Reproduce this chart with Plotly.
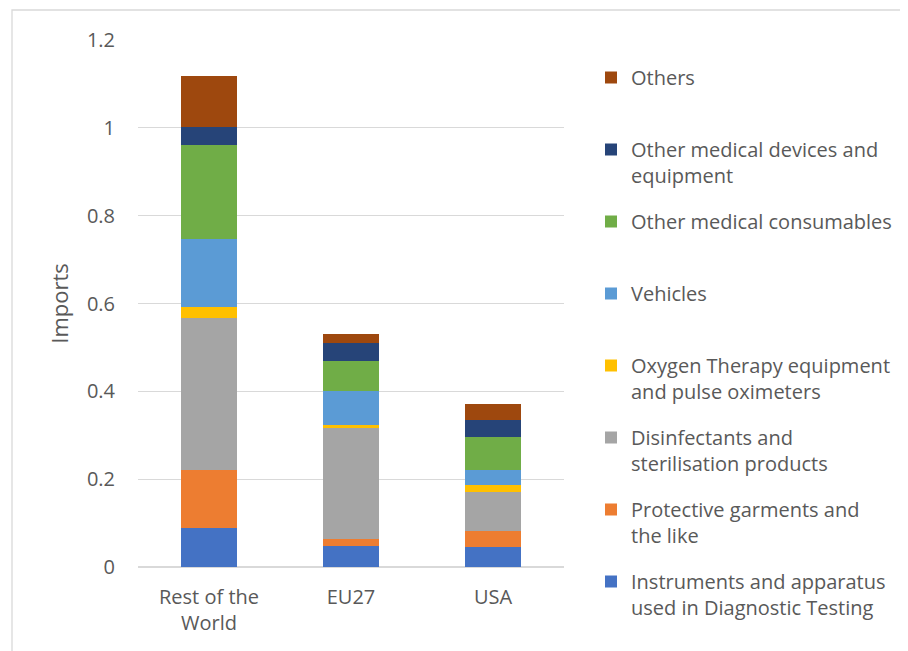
import plotly.graph_objects as go

categories = ["Rest of the<br>World", "EU27", "USA"]
series_names = [
    "Instruments and apparatus<br>used in Diagnostic Testing",
    "Protective garments and<br>the like",
    "Disinfectants and<br>sterilisation products",
    "Oxygen Therapy equipment<br>and pulse oximeters",
    "Vehicles<br> ",
    "Other medical consumables<br> ",
    "Other medical devices and<br>equipment",
    "Others<br> ",
]
instruments = [0.089, 0.047, 0.046]
protective = [0.133, 0.017, 0.036]
disinfectants = [0.345, 0.253, 0.089]
oxygen = [0.025, 0.006, 0.016]
vehicles = [0.155, 0.077, 0.035]
consumables = [0.213, 0.069, 0.075]
devices = [0.041, 0.042, 0.038]
others = [0.118, 0.020, 0.037]
series_values = [instruments, protective, disinfectants, oxygen, vehicles, consumables, devices, others]
colors = ["#4472C4", "#ED7D31", "#A5A5A5", "#FFC000", "#5B9BD5", "#70AD47", "#264478", "#9E480E"]
y_ticks = [0, 0.2, 0.4, 0.6, 0.8, 1.0, 1.2]
y_tick_labels = ["0", "0.2", "0.4", "0.6", "0.8", "1", "1.2"]

FONT = "Open Sans"
TXT = "#595959"
FS = 20

fig = go.Figure()
n = len(series_names)
for i, (name, vals, col) in enumerate(zip(series_names, series_values, colors)):
    fig.add_trace(go.Bar(
        x=categories, y=vals, name=name, legendgroup=f"g{i}", legendrank=100 * (n - i),
        marker=dict(color=col, line=dict(width=0)),
    ))

# page has an 8px body margin; figure coords = page coords - 8
W, H = 900, 643
L, T, B = 130, 32, 84
R = 344
pw, ph = W - L - R, H - T - B

fig.update_layout(
    width=W, height=H,
    margin=dict(l=L, r=R, t=T, b=B, autoexpand=False),
    barmode="stack", bargap=0.6,
    paper_bgcolor="white", plot_bgcolor="white",
    font=dict(family=FONT, size=FS, color=TXT),
    showlegend=True,
    legend=dict(
        x=(583 - L) / pw, xanchor="left",
        y=(H - B - 50) / ph, yanchor="top",
        traceorder="grouped", valign="top",
        tracegroupgap=17, maxheight=640,
        font=dict(family=FONT, size=FS, color=TXT),
        bgcolor="rgba(0,0,0,0)",
    ),
    xaxis=dict(showgrid=False, showline=False, ticks="", ticklabelstandoff=16,
               tickfont=dict(size=FS, color=TXT)),
    yaxis=dict(
        range=[0, 1.2], tickvals=y_ticks, ticktext=y_tick_labels,
        showgrid=True, gridcolor="#d9d9d9", gridwidth=1, zeroline=True, zerolinecolor="#d9d9d9",
        showline=False, ticks="", ticklabelstandoff=22,
        tickfont=dict(size=FS, color=TXT),
        title=dict(text="Imports", font=dict(size=22, color=TXT), standoff=12),
    ),
    shapes=[dict(
        type="rect", xref="paper", yref="paper",
        x0=(4 - L) / pw, x1=2.0, y0=-1.0, y1=(H - B - 2) / ph,
        line=dict(color="#d9d9d9", width=1.3), fillcolor="rgba(0,0,0,0)", layer="below",
    )],
)

fig.write_html("out.html")
